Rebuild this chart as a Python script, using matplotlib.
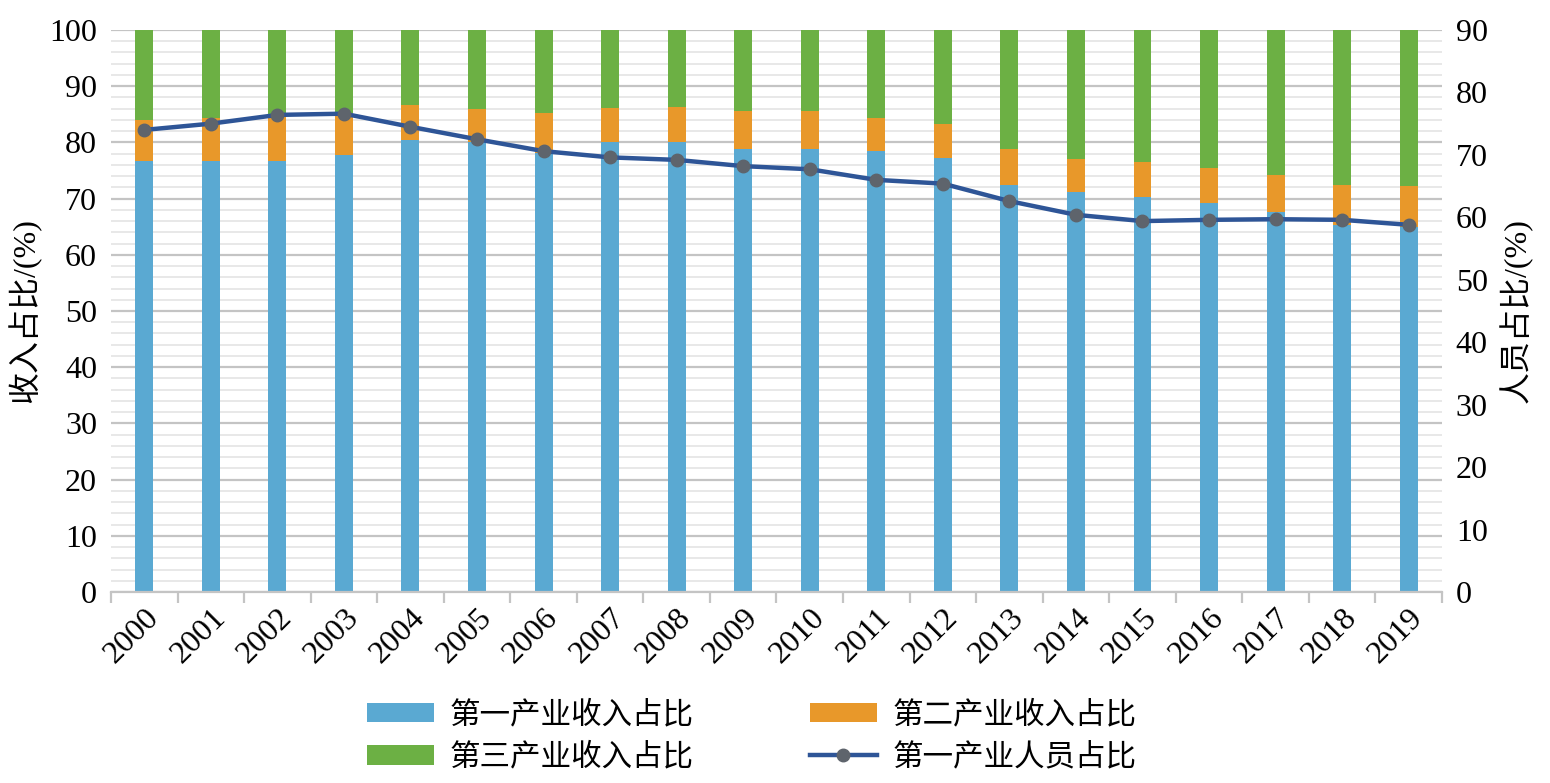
import numpy as np
import matplotlib
matplotlib.use('Agg')
import matplotlib.pyplot as plt
from matplotlib.ticker import MultipleLocator, FixedLocator

plt.rcParams['font.family'] = ['Liberation Serif', 'Noto Sans CJK SC']

years = [str(y) for y in range(2000, 2020)]
# income shares (%)
primary = [76.7, 76.7, 76.7, 77.8, 80.4, 80.1, 78.1, 80.0, 80.1, 78.9,
           78.9, 78.5, 77.3, 72.4, 71.2, 70.2, 69.3, 67.7, 65.3, 65.0]
primary_plus_secondary = [84.0, 84.3, 85.0, 85.2, 86.7, 86.0, 85.3, 86.1, 86.3, 85.6,
                          85.6, 84.4, 83.3, 78.8, 77.0, 76.5, 75.5, 74.2, 72.4, 72.2]
secondary = [t - p for t, p in zip(primary_plus_secondary, primary)]
tertiary = [100 - t for t in primary_plus_secondary]
# employment share of primary industry (%), right axis
staff = [74.0, 75.0, 76.4, 76.6, 74.5, 72.5, 70.6, 69.6, 69.2, 68.2,
         67.7, 66.0, 65.4, 62.6, 60.4, 59.4, 59.6, 59.7, 59.6, 58.8]

c_blue = '#5AA9D2'
c_orange = '#E8982A'
c_green = '#6CB044'
c_line = '#2E5597'
c_mark = '#5E646C'

fig = plt.figure(figsize=(15.5, 7.83), dpi=100)
ax = fig.add_axes([0.0716, 0.2439, 0.8587, 0.7178])
x = np.arange(len(years))
w = 0.27
b1 = ax.bar(x, primary, w, color=c_blue, zorder=2)
b2 = ax.bar(x, secondary, w, bottom=primary, color=c_orange, zorder=2)
b3 = ax.bar(x, tertiary, w, bottom=primary_plus_secondary, color=c_green, zorder=2)

ax.set_xlim(-0.5, len(years) - 0.5)
ax.set_ylim(0, 100)
ax.yaxis.set_major_locator(MultipleLocator(10))
ax.yaxis.set_minor_locator(MultipleLocator(2))
ax.grid(which='major', axis='y', color='#C4C4C4', linewidth=1.6, zorder=0)
ax.grid(which='minor', axis='y', color='#E6E6E6', linewidth=1.3, zorder=0)
ax.set_axisbelow(True)
ax.set_xticks(x)
ax.set_xticklabels(years, rotation=45, ha='right', va='top', rotation_mode='anchor', fontsize=23)
ax.xaxis.set_minor_locator(FixedLocator(np.arange(-0.5, len(years), 1)))
ax.tick_params(axis='x', which='major', length=0, pad=8)
ax.tick_params(axis='x', which='minor', length=8, width=1.6, color='#C4C4C4')
ax.tick_params(axis='y', which='both', length=0, labelsize=23, pad=10)
for s in ['top', 'left', 'right']:
    ax.spines[s].set_visible(False)
ax.spines['bottom'].set_color('#C4C4C4')
ax.spines['bottom'].set_linewidth(1.6)
ax.set_ylabel('收入占比/(%)', fontsize=23, labelpad=6)

ax2 = ax.twinx()
ln, = ax2.plot(x, staff, color=c_line, linewidth=3.2, marker='o', markersize=9,
               markerfacecolor=c_mark, markeredgecolor=c_mark, zorder=3)
ax2.set_ylim(0, 90)
ax2.yaxis.set_major_locator(MultipleLocator(10))
ax2.tick_params(axis='y', length=0, labelsize=23, pad=10)
for s in ['top', 'left', 'right', 'bottom']:
    ax2.spines[s].set_visible(False)
ax2.set_ylabel('人员占比/(%)', fontsize=23, labelpad=8)

# column-wise fill, so order gives rows: 第一/第二, 第三/人员
fig.legend([b1, b3, b2, ln], ['第一产业收入占比', '第三产业收入占比', '第二产业收入占比', '第一产业人员占比'],
           loc='lower center', bbox_to_anchor=(0.485, -0.022), ncol=2, frameon=False,
           fontsize=22, columnspacing=3.8, handlelength=2.2, handleheight=0.6,
           labelspacing=0.45, handletextpad=0.5)

fig.savefig('out.png', dpi=100)
